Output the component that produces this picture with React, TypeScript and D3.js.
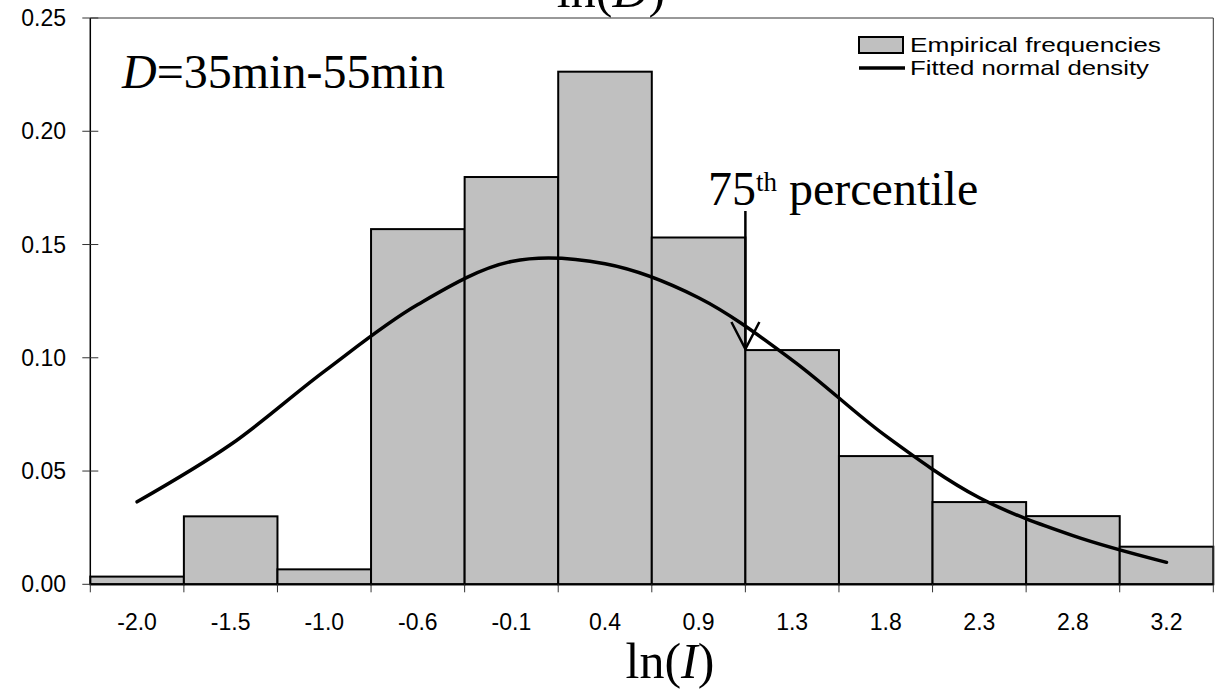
import React from 'react'
import * as d3 from 'd3'

const width = 1218
const height = 689

// bins of ln(I)
const binLabels = ['-2.0', '-1.5', '-1.0', '-0.6', '-0.1', '0.4', '0.9', '1.3', '1.8', '2.3', '2.8', '3.2']
const empirical = [0.0034, 0.0300, 0.0066, 0.1568, 0.1798, 0.2263, 0.1531, 0.1034, 0.0566, 0.0363, 0.0301, 0.0166]
const fitted = [0.0364, 0.0617, 0.0940, 0.1235, 0.1425, 0.1415, 0.1265, 0.0990, 0.0655, 0.0382, 0.0215, 0.0097]
const yTicks = [0, 0.05, 0.1, 0.15, 0.2, 0.25]
// 75th percentile sits on the right edge of the 0.9 bin
const percentileBin = '0.9'

const left = 90.3
const right = 1213.3
const top = 18
const bottom = 584.3

const x = d3.scaleBand<string>().domain(binLabels).range([left, right]).padding(0)
const y = d3.scaleLinear().domain([0, 0.25]).range([bottom, top])

const sans = '"Liberation Sans", Arial, sans-serif'
const serif = '"Liberation Serif", "Times New Roman", serif'

const curveLine = d3.line<number>()
  .x((_, i) => (x(binLabels[i]) as number) + x.bandwidth() / 2)
  .y(d => y(d))
  .curve(d3.curveCatmullRom.alpha(0.5))

export default function App() {
  const bw = x.bandwidth()
  const arrowX = (x(percentileBin) as number) + bw
  const arrowTip = 349
  const arrowTop = 211

  return (
    <div style={{ position: 'fixed', left: 0, top: 0 }}>
      <svg width={width} height={height} style={{ display: 'block', background: '#fff' }}>
        {/* title, cut off at the top like the source */}
        <text x={611} y={7} textAnchor="middle" style={{ fontFamily: serif, fontSize: 50 }}>
          ln(<tspan fontStyle="italic">D</tspan>)
        </text>

        {/* bars */}
        {empirical.map((v, i) => (
          <rect key={i}
            x={x(binLabels[i])}
            y={y(v)}
            width={bw}
            height={y(0) - y(v)}
            fill="#c0c0c0"
            stroke="#000"
            strokeWidth={2} />
        ))}

        {/* frame */}
        <line x1={left} x2={right} y1={top} y2={top} stroke="#333" strokeWidth={1} />
        <line x1={right} x2={right} y1={top} y2={bottom} stroke="#333" strokeWidth={1} />

        {/* y axis */}
        <line x1={left} x2={left} y1={top} y2={bottom} stroke="#000" strokeWidth={1.5} />
        {yTicks.map(t => (
          <g key={t}>
            <line x1={left - 8} x2={left + 8} y1={y(t)} y2={y(t)} stroke="#333" strokeWidth={1} />
            <text x={66} y={y(t)} dy="0.35em" textAnchor="end"
              style={{ fontFamily: sans, fontSize: 23 }}>{d3.format('.2f')(t)}</text>
          </g>
        ))}

        {/* x axis */}
        <line x1={left} x2={right} y1={bottom} y2={bottom} stroke="#000" strokeWidth={2} />
        {binLabels.map(l => (
          <line key={'t' + l} x1={x(l)} x2={x(l)} y1={bottom} y2={bottom + 8} stroke="#333" strokeWidth={1} />
        ))}
        <line x1={right} x2={right} y1={bottom} y2={bottom + 8} stroke="#333" strokeWidth={1} />
        {binLabels.map(l => (
          <text key={'l' + l} x={(x(l) as number) + bw / 2} y={630} textAnchor="middle"
            style={{ fontFamily: sans, fontSize: 23 }}>{l}</text>
        ))}
        <text x={670} y={678} textAnchor="middle" style={{ fontFamily: serif, fontSize: 50 }}>
          ln(<tspan fontStyle="italic">I</tspan>)
        </text>

        {/* fitted normal density */}
        <path d={curveLine(fitted) || ''} fill="none" stroke="#000" strokeWidth={3.5} strokeLinecap="round" />

        {/* percentile arrow */}
        <line x1={arrowX} x2={arrowX} y1={arrowTop} y2={arrowTip} stroke="#000" strokeWidth={2.5} />
        <polyline points={`${arrowX - 14},${arrowTip - 27} ${arrowX},${arrowTip} ${arrowX + 14},${arrowTip - 27}`}
          fill="none" stroke="#000" strokeWidth={2.5} />
        <text x={708} y={205} style={{ fontFamily: serif, fontSize: 48 }}>
          75<tspan fontSize={27} dy={-14}>th</tspan><tspan dy={14}> percentile</tspan>
        </text>

        {/* panel label */}
        <text x={122} y={88} style={{ fontFamily: serif, fontSize: 48 }}>
          <tspan fontStyle="italic">D</tspan>=35min-55min
        </text>

        {/* legend */}
        <rect x={859} y={37} width={44} height={16} fill="#c0c0c0" stroke="#000" strokeWidth={2} />
        <text x={910} y={45} dy="0.35em" textLength={251} lengthAdjust="spacingAndGlyphs"
          style={{ fontFamily: sans, fontSize: 21 }}>Empirical frequencies</text>
        <line x1={859} x2={905} y1={68} y2={68} stroke="#000" strokeWidth={3.5} />
        <text x={910} y={68} dy="0.35em" textLength={239} lengthAdjust="spacingAndGlyphs"
          style={{ fontFamily: sans, fontSize: 21 }}>Fitted normal density</text>
      </svg>
    </div>
  )
}
